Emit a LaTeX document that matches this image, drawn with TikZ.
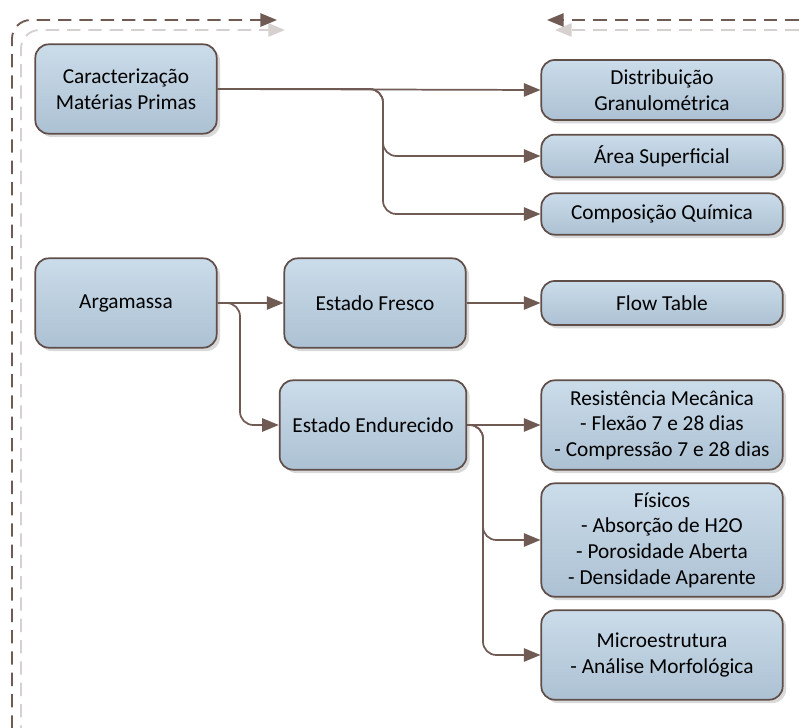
\documentclass[tikz,border=0pt]{standalone}
\usepackage{fontspec}
\setmainfont{Carlito}
\usepackage{xcolor}
\usetikzlibrary{arrows.meta,positioning,calc,shadows}

\definecolor{boxline}{RGB}{96,78,72}
\definecolor{boxtop}{RGB}{203,220,234}
\definecolor{boxbot}{RGB}{172,193,211}
\definecolor{linkcol}{RGB}{112,90,84}
\definecolor{shadecol}{RGB}{214,209,207}

\begin{document}
\begin{tikzpicture}[x=0.75pt,y=-0.75pt,
    font=\fontsize{16}{19.2}\selectfont,
    stepbox/.style={draw=boxline,line width=1.3pt,rounded corners=10pt,
      top color=boxtop,bottom color=boxbot,align=center,inner sep=0pt,
      drop shadow={shadow xshift=2.5pt,shadow yshift=-2.5pt,fill=black!25,opacity=0.6}},
    leftbox/.style={stepbox,minimum width=136pt,minimum height=67pt},
    rightbox/.style={stepbox,minimum width=181pt},
    link/.style={draw=linkcol,line width=1.3pt,rounded corners=10pt,
      -{Triangle[length=12.5pt,width=10pt]}},
    frame/.style={draw=linkcol,line width=1.4pt,dash pattern=on 10pt off 6pt,
      rounded corners=14pt,-{Triangle[length=12.5pt,width=10pt]}},
    frameshadow/.style={frame,draw=shadecol}]
  \useasboundingbox (0,0) rectangle (803,728);
  \clip (0,0) rectangle (803,728);

  % dashed frame (shadow first)
  \draw[frameshadow] (21,760) -- (21,30) -- (285,30);
  \draw[frameshadow] (820,30) -- (555,30);
  \draw[frame] (12,750) -- (12,20) -- (277,20);
  \draw[frame] (820,20) -- (547,20);

  % left column
  \node[leftbox] (carac) at (126,89) {Caracterização\\Matérias Primas};
  \node[leftbox] (arga) at (126,303) {Argamassa};
  % middle column
  \node[leftbox] (fresco) at (375,303) {Estado Fresco};
  \node[leftbox,minimum width=140pt] (endur) at (373,425) {Estado Endurecido};
  % right column
  \node[rightbox,minimum height=45pt] (granul) at (662,90) {Distribuição\\Granulométrica};
  \node[rightbox,minimum height=32pt] (area) at (662,156) {Área Superficial};
  \node[rightbox,minimum height=31pt] (quim) at (662,214) {Composição Química};
  \node[rightbox,minimum height=33pt] (flow) at (662,303) {Flow Table};
  \node[rightbox,minimum height=67pt] (mecan) at (662,425) {Resistência Mecânica\\- Flexão 7 e 28 dias\\- Compressão 7 e 28 dias};
  \node[rightbox,minimum height=85pt] (fisic) at (662,540) {Físicos\\- Absorção de H2O\\- Porosidade Aberta\\- Densidade Aparente};
  \node[rightbox,minimum height=67pt] (micro) at (662,655) {Microestrutura\\- Análise Morfológica};

  % branch points
  \coordinate (cbr) at (383,89);
  \coordinate (abr) at (240,303);
  \coordinate (ebr) at (483,425);

  % connectors
  \draw[link] (carac.east) -- (granul.west);
  \draw[link] (carac.east) -- (cbr) |- (area.west);
  \draw[link] (carac.east) -- (cbr) |- (quim.west);
  \draw[link] (arga.east) -- (fresco.west);
  \draw[link] (arga.east) -- (abr) |- (endur.west);
  \draw[link] (fresco.east) -- (flow.west);
  \draw[link] (endur.east) -- (mecan.west);
  \draw[link] (endur.east) -- (ebr) |- (fisic.west);
  \draw[link] (endur.east) -- (ebr) |- (micro.west);
\end{tikzpicture}
\end{document}
